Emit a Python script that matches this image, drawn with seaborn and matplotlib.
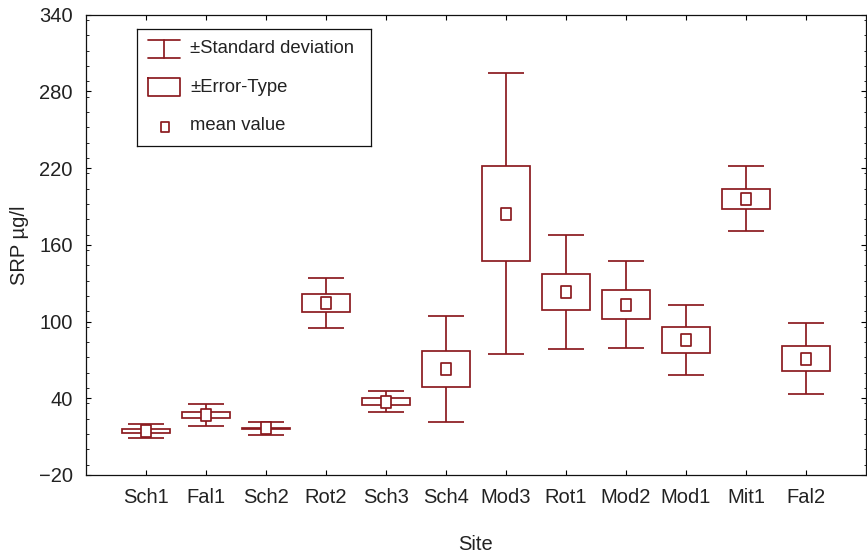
import numpy as np
import pandas as pd
import matplotlib
matplotlib.use("Agg")
import matplotlib.pyplot as plt
from matplotlib.path import Path
from matplotlib.ticker import MultipleLocator, FixedLocator
import seaborn as sns

sites = ["Sch1", "Fal1", "Sch2", "Rot2", "Sch3", "Sch4", "Mod3", "Rot1", "Mod2", "Mod1", "Mit1", "Fal2"]
means = [14.1, 27.0, 16.4, 114.5, 37.3, 62.9, 184.4, 122.9, 113.3, 85.5, 196.1, 71.0]
std_err = [1.6, 2.6, 0.7, 7.2, 2.7, 14.0, 36.9, 14.0, 11.3, 10.3, 7.8, 9.7]
std_dev = [5.5, 8.5, 4.8, 19.5, 8.3, 41.3, 109.9, 44.5, 34.1, 27.4, 25.4, 27.5]
y_ticks = [-20, 40, 100, 160, 220, 280, 340]

legend_labels = ["\u00b1Standard deviation", "\u00b1Error-Type", "mean value"]

COLOR = "#8b1a1f"
LW = 1.25
FONT = ["Liberation Sans", "DejaVu Sans"]
TICK_FS = 14.5
LABEL_FS = 14.5
LEG_FS = 13.3

sns.set_theme(style="white")
plt.rcParams["font.family"] = FONT

df = pd.DataFrame({"site": sites, "mean": means, "se": std_err, "sd": std_dev})
df["pos"] = np.arange(len(df))
df["se_low"] = df["mean"] - df["se"]

W, H = 867, 557
fig = plt.figure(figsize=(W / 100, H / 100), dpi=100)
ax = fig.add_axes([86 / W, 1 - 475 / H, (866 - 86) / W, (475 - 14.7) / H])

# rectangle marker (taller than wide)
rect_marker = Path([(-0.4, -0.5), (0.4, -0.5), (0.4, 0.5), (-0.4, 0.5), (-0.4, -0.5)],
                   [Path.MOVETO, Path.LINETO, Path.LINETO, Path.LINETO, Path.CLOSEPOLY])

# standard deviation whiskers
ax.errorbar(df["pos"], df["mean"], yerr=df["sd"], fmt="none", ecolor=COLOR,
            elinewidth=LW, capsize=13, capthick=LW, zorder=2)
# standard error boxes
ax.bar(df["pos"], 2 * df["se"], bottom=df["se_low"], width=0.8, facecolor="white",
       edgecolor=COLOR, linewidth=LW, zorder=3)
# mean markers
sns.scatterplot(data=df, x="pos", y="mean", marker=rect_marker, s=72, facecolor="white",
                edgecolor=COLOR, linewidth=LW, zorder=5, ax=ax, legend=False)

ax.set_xlim(-1, len(sites) - 0.0)
ax.set_ylim(-20, 340)
ax.xaxis.set_major_locator(FixedLocator(df["pos"]))
ax.set_xticklabels(sites)
ax.yaxis.set_major_locator(FixedLocator(y_ticks))
ax.yaxis.set_minor_locator(MultipleLocator(12))
ax.set_yticklabels(["\u221220" if t < 0 else str(t) for t in y_ticks])

ax.tick_params(axis="both", which="major", direction="in", length=3.5, width=0.8,
               color="black", labelsize=TICK_FS, pad=9.5, top=True, right=True, left=True, bottom=True)
ax.tick_params(axis="y", which="minor", direction="in", length=1.8, width=0.6,
               color="black", left=True, right=True)
for lab in ax.get_xticklabels() + ax.get_yticklabels():
    lab.set_color("#222222")
for sp in ax.spines.values():
    sp.set_visible(True)
    sp.set_color("#111111")
    sp.set_linewidth(0.9)

ax.set_xlabel("Site", fontsize=LABEL_FS, labelpad=20, color="#222222")
ax.set_ylabel("SRP \u00b5g/l", fontsize=LABEL_FS, labelpad=7, color="#222222")
ax.grid(False)

# manual legend box in pixel-like coordinates
lx0, ly0, lx1, ly1 = 137, 29, 371, 146
lax = fig.add_axes([lx0 / W, 1 - ly1 / H, (lx1 - lx0) / W, (ly1 - ly0) / H])
lax.set_xlim(lx0, lx1)
lax.set_ylim(ly1, ly0)
lax.set_xticks([])
lax.set_yticks([])
for sp in lax.spines.values():
    sp.set_color("#111111")
    sp.set_linewidth(0.9)
lax.set_facecolor("white")

# SD symbol
sx0, sx1, sy0, sy1 = 148, 180, 40, 57.5
lax.plot([sx0, sx1], [sy0, sy0], color=COLOR, lw=LW)
lax.plot([sx0, sx1], [sy1, sy1], color=COLOR, lw=LW)
lax.plot([(sx0 + sx1) / 2] * 2, [sy0, sy1], color=COLOR, lw=LW)
# SE symbol
lax.plot([148, 180, 180, 148, 148], [77.5, 77.5, 96, 96, 77.5], color=COLOR, lw=LW)
# mean symbol
lax.scatter([165], [126.5], marker=rect_marker, s=60, facecolor="white",
            edgecolor=COLOR, linewidth=LW)
for ty, lab in zip([48.5, 87, 126], legend_labels):
    lax.text(190, ty, lab, fontsize=LEG_FS, va="center", ha="left", color="#222222")

fig.savefig("out.png", dpi=100)
